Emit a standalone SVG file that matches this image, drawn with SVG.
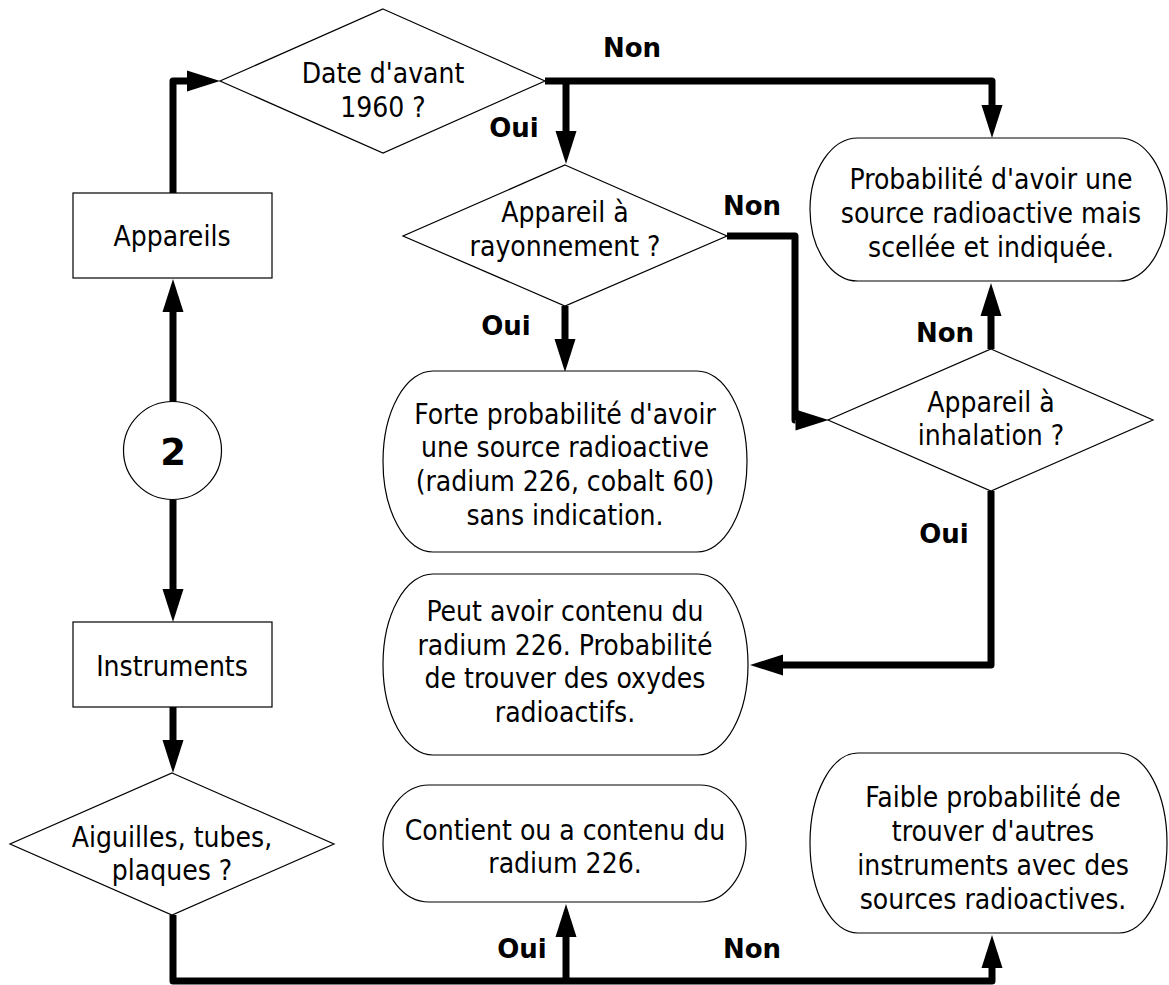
<svg xmlns="http://www.w3.org/2000/svg" width="1169" height="985" viewBox="0 0 1169 985">
  <style>
    .shape { fill: #ffffff; stroke: #000000; stroke-width: 1.2; }
    .txt { font-family: "DejaVu Sans Condensed", "DejaVu Sans", Verdana, sans-serif; font-stretch: condensed; font-size: 28px; fill: #000000; text-anchor: middle; }
    .lbl { font-family: "DejaVu Sans", Verdana, sans-serif; font-size: 26px; font-weight: bold; fill: #000000; text-anchor: middle; }
    .num { font-family: "DejaVu Sans", Verdana, sans-serif; font-size: 37px; font-weight: bold; fill: #000000; text-anchor: middle; }
    .flow { fill: none; stroke: #000000; stroke-width: 7; stroke-linejoin: round; marker-end: url(#head); }
  </style>
  <defs>
    <!-- arrowhead starts where the line ends and points forward 33px -->
    <marker id="head" markerUnits="userSpaceOnUse" markerWidth="34" markerHeight="22" refX="0" refY="10.5" orient="auto" viewBox="0 0 34 22" overflow="visible">
      <path d="M0,0 L33,10.5 L0,21 Z" fill="#000000"/>
    </marker>
  </defs>

  <rect width="1169" height="985" fill="#ffffff"/>

  <!-- connectors -->
  <g id="connectors">
    <path class="flow" d="M173,193 V81 H187"/>
    <path class="flow" d="M545,81 H992 V105"/>
    <path class="flow" d="M566,81 V131"/>
    <path class="flow" d="M727,236 H795 V420 H795.5"/>
    <path class="flow" d="M565,306 V339"/>
    <path class="flow" d="M991,349 V316"/>
    <path class="flow" d="M991,491 V665 H783"/>
    <path class="flow" d="M173,402 V312"/>
    <path class="flow" d="M173,500 V589"/>
    <path class="flow" d="M173,707 V740"/>
    <path class="flow" d="M173,915 V981 H992 V968"/>
    <path class="flow" d="M566,981 V937"/>

    <text class="lbl" x="632" y="57">Non</text>
    <text class="lbl" x="514" y="137">Oui</text>
    <text class="lbl" x="752" y="215">Non</text>
    <text class="lbl" x="506" y="335">Oui</text>
    <text class="lbl" x="945" y="342">Non</text>
    <text class="lbl" x="944" y="543">Oui</text>
    <text class="lbl" x="522" y="958">Oui</text>
    <text class="lbl" x="752" y="958">Non</text>
  </g>

  <!-- decision: date -->
  <g id="date">
    <polygon class="shape" points="383,9 545,81 383,153 220,81"/>
    <text class="txt" x="383" y="83">Date d'avant</text>
    <text class="txt" x="383" y="117">1960 ?</text>
  </g>

  <!-- decision: radiation device -->
  <g id="rayonnement">
    <polygon class="shape" points="565,165 727,236 565,306 403,236"/>
    <text class="txt" x="565" y="222">Appareil à</text>
    <text class="txt" x="565" y="256">rayonnement ?</text>
  </g>

  <!-- decision: inhalation device -->
  <g id="inhalation">
    <polygon class="shape" points="991,349 1153,420 991,491 828,420"/>
    <text class="txt" x="991" y="412">Appareil à</text>
    <text class="txt" x="991" y="445">inhalation ?</text>
  </g>

  <!-- decision: needles, tubes, plates -->
  <g id="aiguilles">
    <polygon class="shape" points="172,773 334,844 172,915 10,844"/>
    <text class="txt" x="172" y="847">Aiguilles, tubes,</text>
    <text class="txt" x="172" y="880">plaques ?</text>
  </g>

  <!-- categories -->
  <g id="appareils">
    <rect class="shape" x="73" y="193" width="199" height="85"/>
    <text class="txt" x="172" y="246">Appareils</text>
  </g>

  <g id="instruments">
    <rect class="shape" x="73" y="622" width="199" height="85"/>
    <text class="txt" x="172" y="676">Instruments</text>
  </g>

  <!-- connector reference -->
  <g id="ref2">
    <circle class="shape" cx="172.5" cy="450.5" r="49"/>
    <text class="num" x="173" y="465">2</text>
  </g>

  <!-- outcomes -->
  <g id="scellee">
    <rect class="shape" x="810" y="138" width="357" height="143" rx="48" ry="71.5"/>
    <text class="txt" x="991" y="189">Probabilité d'avoir une</text>
    <text class="txt" x="991" y="223">source radioactive mais</text>
    <text class="txt" x="991" y="257">scellée et indiquée.</text>
  </g>

  <g id="forte">
    <rect class="shape" x="383" y="371" width="364" height="181" rx="50" ry="90.5"/>
    <text class="txt" x="565" y="424">Forte probabilité d'avoir</text>
    <text class="txt" x="565" y="457">une source radioactive</text>
    <text class="txt" x="565" y="491">(radium 226, cobalt 60)</text>
    <text class="txt" x="565" y="525">sans indication.</text>
  </g>

  <g id="oxydes">
    <rect class="shape" x="383" y="574" width="365" height="181" rx="50" ry="90.5"/>
    <text class="txt" x="565" y="621">Peut avoir contenu du</text>
    <text class="txt" x="565" y="655">radium 226. Probabilité</text>
    <text class="txt" x="565" y="688">de trouver des oxydes</text>
    <text class="txt" x="565" y="722">radioactifs.</text>
  </g>

  <g id="contient">
    <rect class="shape" x="383" y="785" width="363" height="117" rx="46" ry="58.5"/>
    <text class="txt" x="565" y="840">Contient ou a contenu du</text>
    <text class="txt" x="565" y="873">radium 226.</text>
  </g>

  <g id="faible">
    <rect class="shape" x="810" y="753" width="357" height="180" rx="48" ry="90"/>
    <text class="txt" x="993" y="807">Faible probabilité de</text>
    <text class="txt" x="993" y="841">trouver d'autres</text>
    <text class="txt" x="993" y="875">instruments avec des</text>
    <text class="txt" x="993" y="909">sources radioactives.</text>
  </g>
</svg>
